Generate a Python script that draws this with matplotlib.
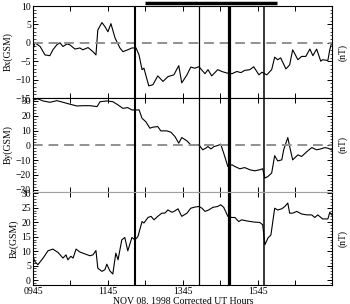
import numpy as np
import matplotlib.pyplot as plt
from matplotlib.ticker import MultipleLocator

plt.rcParams['font.family'] = ['Liberation Serif', 'DejaVu Serif']

# time in decimal UT hours
tx = [9.75, 9.80, 9.94, 10.07, 10.20, 10.28, 10.39, 10.47, 10.55, 10.66, 10.74, 10.87, 11.00,
      11.08, 11.22, 11.35, 11.43, 11.48, 11.59, 11.67, 11.75, 11.83, 11.94, 12.07, 12.15, 12.28,
      12.39, 12.50, 12.58, 12.66, 12.71, 12.84, 12.95, 13.08, 13.22, 13.35, 13.51, 13.64, 13.72,
      13.86, 13.96, 14.07, 14.18, 14.34, 14.42, 14.52, 14.68, 14.79, 14.92, 15.06, 15.19, 15.30,
      15.40, 15.54, 15.64, 15.78, 15.86, 15.99, 16.12, 16.20, 16.28, 16.36, 16.50, 16.60, 16.68,
      16.82, 16.92, 17.03, 17.14, 17.22, 17.32, 17.43, 17.48, 17.62, 17.67, 17.72]
bx = [-1.9, 0.0, -1.0, -3.3, -3.5, -1.9, -0.5, 0.0, -1.0, -0.3, -0.6, -1.7, -1.4,
      -1.9, -1.3, -2.4, -3.3, 3.5, 5.5, 4.4, 3.0, 5.2, 1.3, -1.4, -2.4, -1.9,
      -1.4, -1.4, -3.3, -7.3, -6.9, -11.7, -11.4, -9.0, -10.5, -9.2, -8.7, -6.2, -10.9,
      -8.7, -6.6, -6.9, -6.5, -8.4, -7.3, -9.0, -7.3, -7.8, -8.2, -8.4, -7.8, -8.1,
      -7.5, -7.3, -6.5, -8.7, -8.0, -8.7, -7.3, -3.9, -4.6, -4.1, -7.1, -6.0, -1.9,
      -4.6, -3.7, -3.7, -1.7, -3.5, -1.7, -5.0, -4.6, -4.8, -1.9, 0.0]

ty = [9.75, 9.88, 10.02, 10.20, 10.39, 10.55, 10.74, 10.92, 11.08, 11.27, 11.46, 11.54, 11.72,
      11.88, 12.02, 12.15, 12.28, 12.39, 12.52, 12.58, 12.66, 12.76, 12.87, 12.95, 13.08, 13.16,
      13.32, 13.43, 13.54, 13.64, 13.72, 13.86, 13.96, 14.07, 14.18, 14.28, 14.36, 14.42, 14.50,
      14.58, 14.68, 14.76, 14.84, 14.95, 15.06, 15.14, 15.27, 15.40, 15.54, 15.67, 15.80, 15.88,
      15.94, 16.02, 16.12, 16.20, 16.28, 16.39, 16.44, 16.55, 16.60, 16.68, 16.82, 16.92, 17.06,
      17.19, 17.32, 17.43, 17.54, 17.62, 17.72]
by = [30.7, 31.4, 30.0, 29.1, 30.2, 29.1, 27.8, 26.6, 26.8, 26.8, 26.2, 29.5, 30.0,
      29.5, 27.3, 25.0, 25.5, 23.9, 23.9, 24.0, 18.3, 16.0, 11.6, 12.3, 12.7, 9.8,
      9.8, 8.9, 5.9, 1.5, 5.3, 3.0, 0.3, -0.1, 0.3, -3.0, -1.9, -0.8, -2.4,
      -0.8, -0.1, 0.8, -5.3, -14.3, -13.1, -14.3, -15.8, -15.0, -16.5, -17.2, -16.5, -15.8,
      -22.1, -21.0, -18.7, -6.9, -10.5, -9.8, -3.0, 5.3, -0.8, -9.8, -6.4, -7.5, -4.2,
      -1.5, -3.0, -2.4, -1.5, -1.9, -3.0]

tz = [9.72, 9.80, 9.88, 10.02, 10.15, 10.28, 10.42, 10.55, 10.63, 10.68, 10.76, 10.82, 10.90,
      11.00, 11.14, 11.27, 11.35, 11.43, 11.48, 11.59, 11.67, 11.72, 11.80, 11.88, 11.96, 12.02,
      12.12, 12.20, 12.28, 12.39, 12.47, 12.55, 12.66, 12.71, 12.82, 12.90, 12.98, 13.08, 13.19,
      13.27, 13.35, 13.46, 13.54, 13.62, 13.72, 13.86, 13.96, 14.07, 14.18, 14.26, 14.34, 14.44,
      14.55, 14.68, 14.76, 14.84, 14.95, 15.06, 15.14, 15.24, 15.32, 15.46, 15.56, 15.67, 15.80,
      15.88, 15.94, 16.02, 16.10, 16.20, 16.28, 16.39, 16.47, 16.55, 16.60, 16.68, 16.79, 16.92,
      17.06, 17.19, 17.27, 17.35, 17.48, 17.62, 17.67, 17.72]
bz = [9.3, 6.4, 5.3, 7.6, 10.1, 10.7, 9.5, 7.6, 8.7, 7.0, 8.2, 7.6, 10.7,
      9.7, 9.0, 8.4, 8.7, 10.2, 4.1, 3.0, 3.6, 5.5, 3.2, 2.1, 9.3, 7.0,
      13.9, 14.7, 10.1, 14.7, 13.9, 15.0, 20.2, 19.7, 21.6, 22.0, 20.8, 22.0, 23.1,
      23.1, 24.2, 23.4, 23.9, 24.6, 22.0, 23.1, 24.8, 25.2, 25.4, 24.8, 23.7, 24.2,
      25.1, 25.4, 26.0, 25.1, 22.0, 21.6, 21.6, 20.2, 20.8, 20.4, 20.2, 20.0, 19.9,
      19.1, 12.2, 14.5, 15.6, 24.8, 24.2, 24.6, 25.4, 26.6, 23.1, 23.1, 23.7, 22.8,
      22.5, 22.5, 21.6, 22.5, 21.1, 21.1, 23.4, 22.5]

event_times = [12.47, 14.18, 14.98, 15.91]
event_widths = [1.5, 0.9, 2.3, 1.1]
bar_span = [12.74, 16.26]

hour_ticks = [9.75, 10.75, 11.75, 12.75, 13.75, 14.75, 15.75, 16.75]
hour_labels = ['0945', '', '1145', '', '1345', '', '1545', '']

fig = plt.figure(figsize=(3.5, 3.04), dpi=100)
L, W = 33 / 350, 299 / 350
ax1 = fig.add_axes([L, 1 - 98 / 304, W, 92 / 304])
ax2 = fig.add_axes([L, 1 - 192 / 304, W, 94 / 304])
ax3 = fig.add_axes([L, 1 - 285 / 304, W, 93 / 304])

panels = [
    (ax1, tx, bx, (-15, 10), 5, 1, 'Bx(GSM)', True),
    (ax2, ty, by, (-31.5, 32), 10, 2, 'By(GSM)', True),
    (ax3, tz, bz, (-1.7, 30.4), 5, 1, 'Bz(GSM)', False),
]
for ax, t, v, ylim, major, minor, lab, zero in panels:
    ax.plot(t, v, color='black', lw=0.8)
    if zero:
        ax.axhline(0, color='#909090', lw=1.4, dashes=(5, 3))
    for et, ew in zip(event_times, event_widths):
        ax.axvline(et, color='black', lw=ew)
    ax.set_xlim(9.75, 17.73)
    ax.set_ylim(*ylim)
    ax.yaxis.set_major_locator(MultipleLocator(major))
    ax.yaxis.set_minor_locator(MultipleLocator(minor))
    ax.set_xticks(hour_ticks)
    ax.set_xticklabels(hour_labels)
    ax.tick_params(direction='in', top=True, right=True, labelsize=7, pad=1.5,
                   length=3.5, width=0.7)
    ax.tick_params(which='minor', direction='in', right=True, length=1.8, width=0.5)
    ax.set_ylabel(lab, fontsize=7, labelpad=2)
    ax.text(1.035, 0.5, '(nT)', transform=ax.transAxes, rotation=90,
            ha='center', va='center', fontsize=7)
    for s in ax.spines.values():
        s.set_linewidth(0.8)

ax1.tick_params(labelbottom=False)
ax2.tick_params(labelbottom=False)
ax2.spines['bottom'].set_color('#a0a0a0')
ax3.spines['top'].set_color('#a0a0a0')

ax1.plot(bar_span, [10.9, 10.9], color='black', lw=2.5, clip_on=False,
         solid_capstyle='butt')

fig.text(0.523, 1 - 296 / 304, 'NOV 08, 1998 Corrected UT Hours',
         ha='center', va='top', fontsize=7)

fig.savefig('out.png', dpi=100)
